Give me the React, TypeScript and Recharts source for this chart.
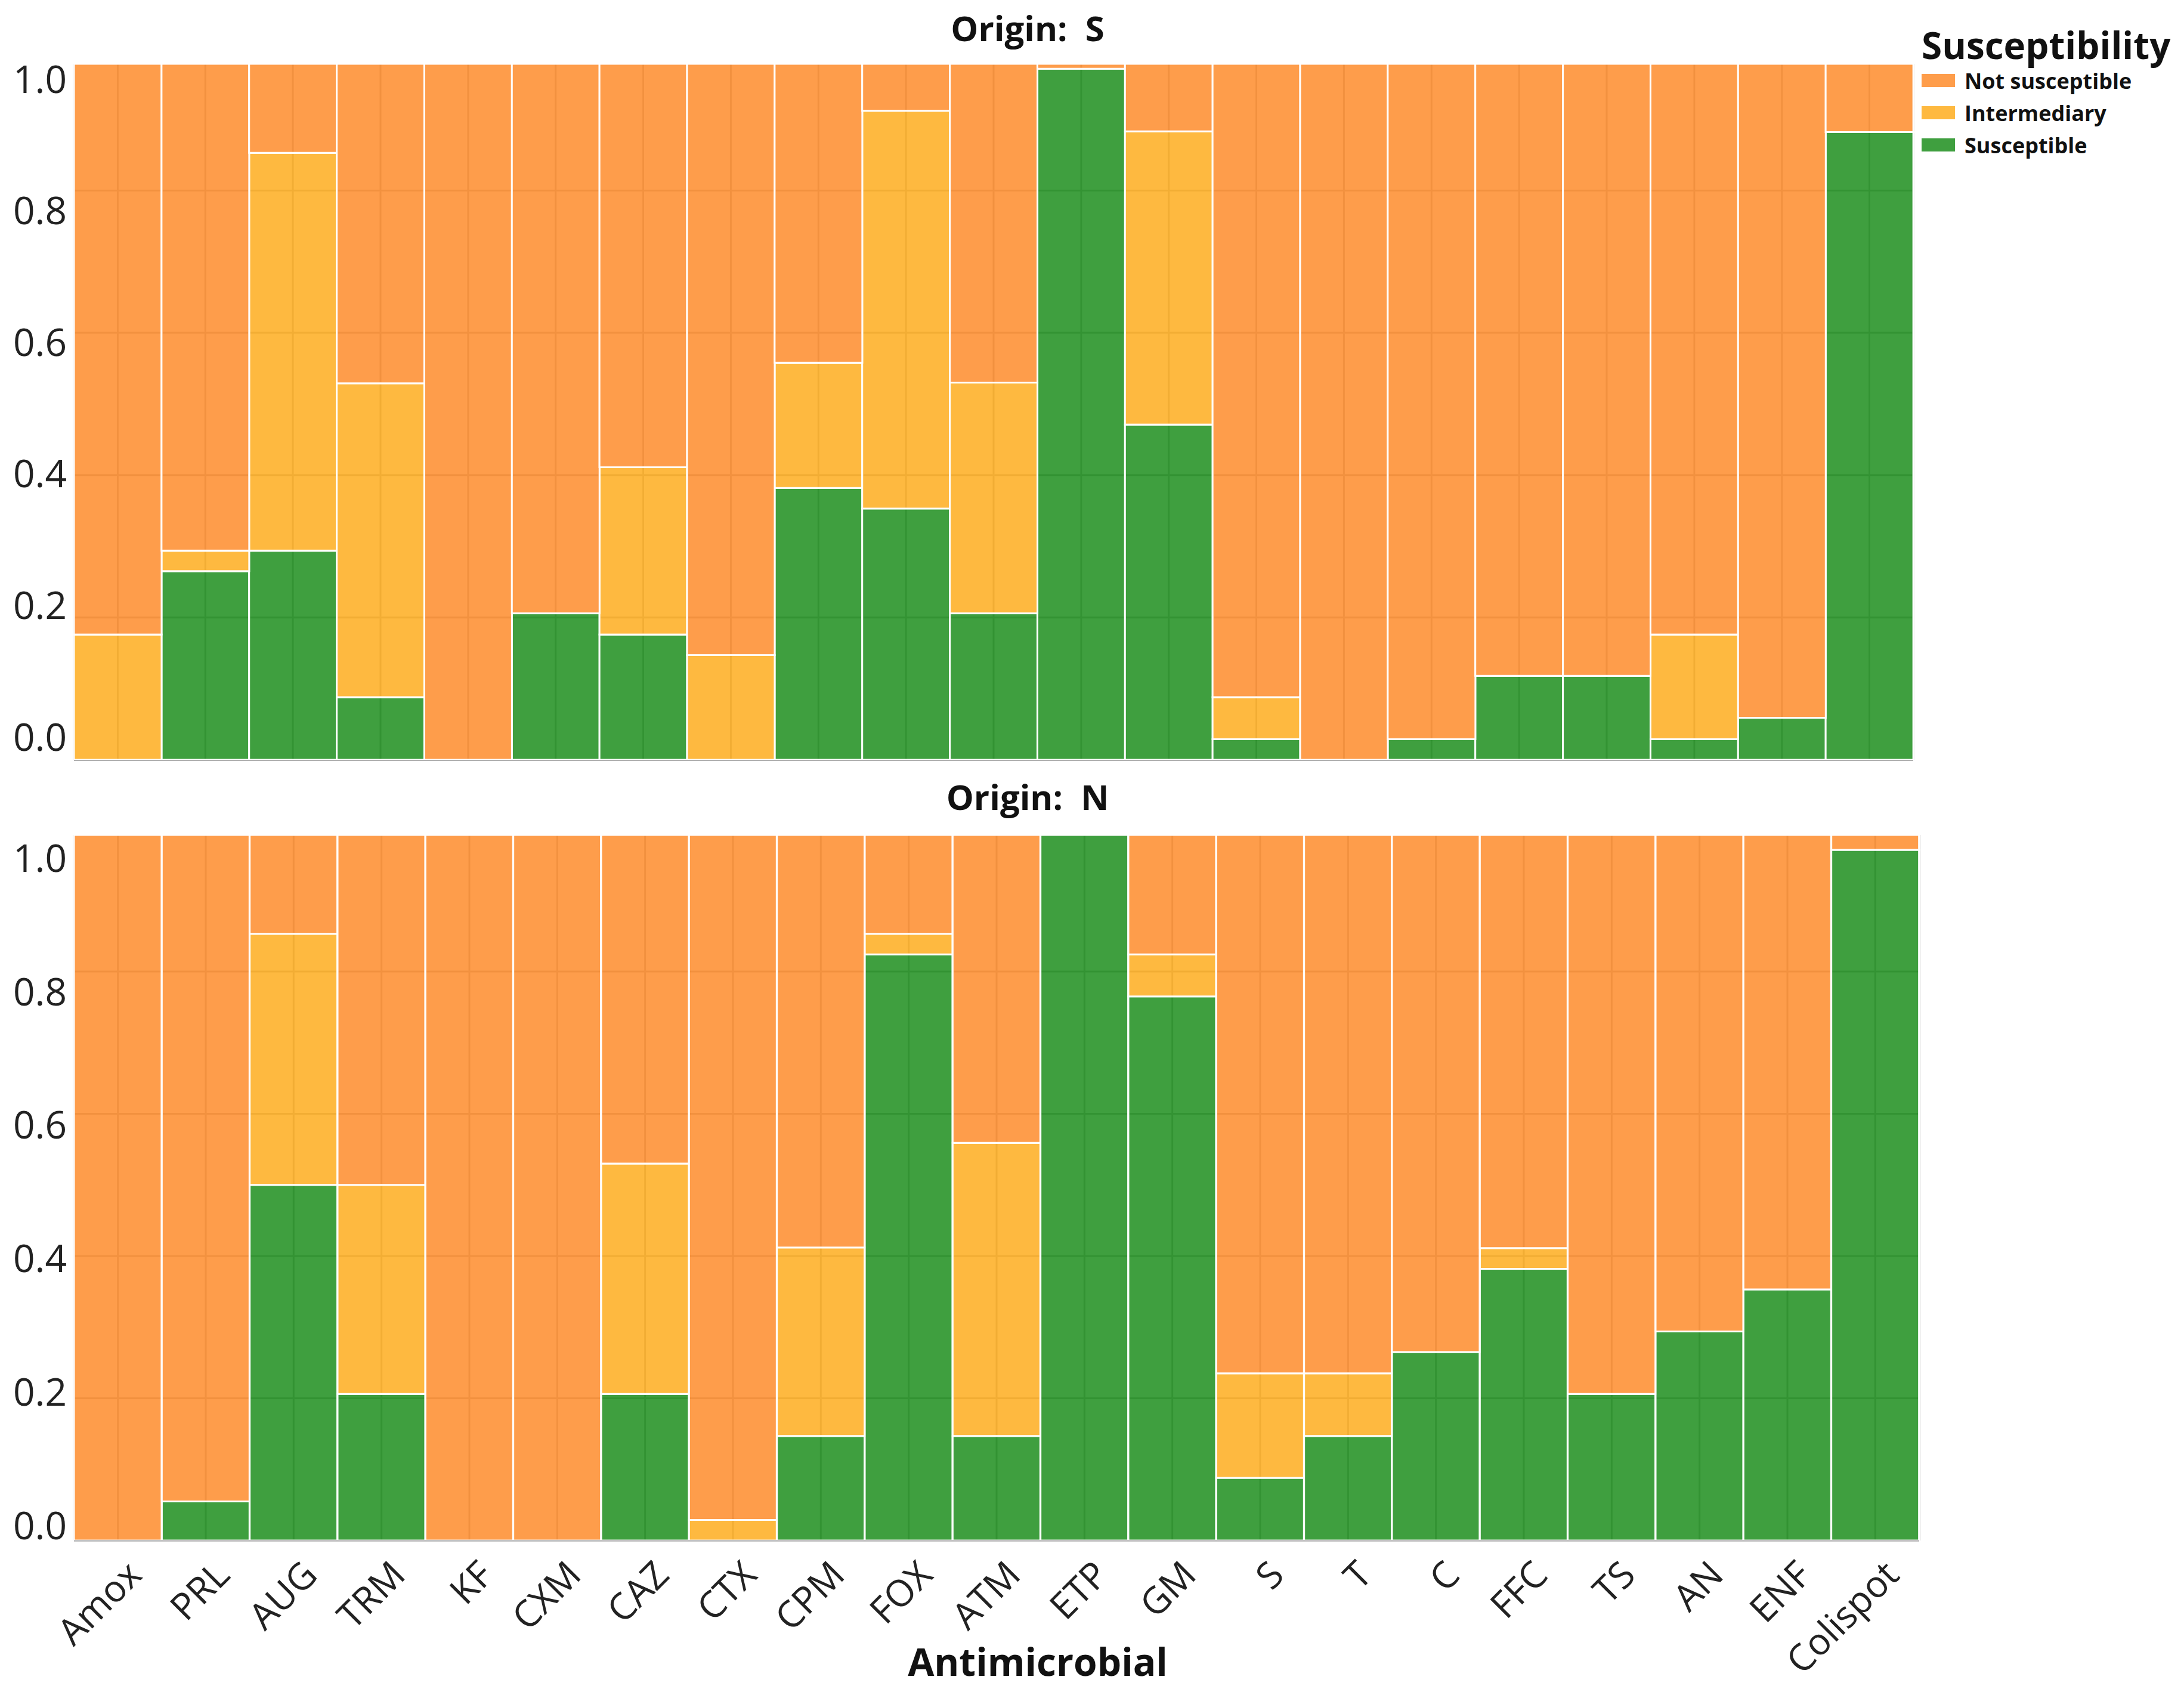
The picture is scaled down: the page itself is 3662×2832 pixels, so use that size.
import { BarChart, Bar, XAxis, YAxis, CartesianGrid } from "recharts";

const drugs = ['Amox', 'PRL', 'AUG', 'TRM', 'KF', 'CXM', 'CAZ', 'CTX', 'CPM', 'FOX', 'ATM', 'ETP', 'GM', 'S', 'T', 'C', 'FFC', 'TS', 'AN', 'ENF', 'Colispot'];

// Origin: S
const sSusceptible = [0, 0.265, 0.294, 0.088, 0, 0.206, 0.176, 0, 0.382, 0.353, 0.206, 0.971, 0.471, 0.029, 0, 0.029, 0.118, 0.118, 0.029, 0.059, 0.882];
const sIntermediary = [0.176, 0.029, 0.559, 0.441, 0, 0, 0.235, 0.147, 0.176, 0.559, 0.324, 0, 0.412, 0.059, 0, 0, 0, 0, 0.147, 0, 0];
const sNotSusceptible = [0.824, 0.706, 0.147, 0.471, 1, 0.794, 0.589, 0.853, 0.442, 0.088, 0.47, 0.029, 0.117, 0.912, 1, 0.971, 0.882, 0.882, 0.824, 0.941, 0.118];

// Origin: N
const nSusceptible = [0, 0.055, 0.5, 0.206, 0, 0, 0.206, 0, 0.147, 0.824, 0.147, 1, 0.765, 0.088, 0.147, 0.265, 0.382, 0.206, 0.294, 0.353, 0.971];
const nIntermediary = [0, 0, 0.353, 0.294, 0, 0, 0.324, 0.029, 0.265, 0.029, 0.412, 0, 0.059, 0.147, 0.088, 0, 0.029, 0, 0, 0, 0];
const nNotSusceptible = [1, 0.945, 0.147, 0.5, 1, 1, 0.47, 0.971, 0.588, 0.147, 0.441, 0, 0.176, 0.765, 0.765, 0.735, 0.589, 0.794, 0.706, 0.647, 0.029];

const yTicks = [0, 0.2, 0.4, 0.6, 0.8, 1.0];

const ORANGE = "#fe9237";
const YELLOW = "#feb12b";
const GREEN = "#2a952a";
const FONT = "'Open Sans', 'DejaVu Sans', sans-serif";

const buildRows = (s: number[], i: number[], ns: number[]) =>
  drugs.map((d, k) => ({ drug: d, S: s[k], I: i[k], NS: ns[k] }));

const originS = buildRows(sSusceptible, sIntermediary, sNotSusceptible);
const originN = buildRows(nSusceptible, nIntermediary, nNotSusceptible);

// tick labels in the figure sit a little squeezed relative to the grid
const makeYTick = (bottom: number, labelBottom: number, squeeze: number) => (props: any) => {
  const { y, payload } = props;
  const ly = labelBottom - (bottom - y) * squeeze;
  return (
    <text x={112} y={ly} textAnchor="end" dominantBaseline="central" fontSize={64} fill="#222" fontFamily={FONT}>
      {Number(payload.value).toFixed(1)}
    </text>
  );
};

const XTick = (props: any) => {
  const { x, y, payload } = props;
  const ax = x + 28;
  const ay = y + 46;
  return (
    <text x={ax} y={ay} dy="0.35em" transform={`rotate(-45 ${ax} ${ay})`} textAnchor="end" fontSize={62} fill="#222" fontFamily={FONT}>
      {payload.value}
    </text>
  );
};

function Panel({ data, height, margin, top, showX, yTick }: any) {
  return (
    <BarChart width={3662} height={height} data={data} margin={margin} barCategoryGap={0} barGap={0}>
      <CartesianGrid stroke="#888" strokeWidth={3} horizontalValues={[0, 0.2, 0.4, 0.6, 0.8]} />
      <XAxis dataKey="drug" hide={!showX} axisLine={false} tickLine={false} tickSize={0} tickMargin={0} height={150} interval={0} tick={<XTick />} />
      <YAxis width={124} domain={[0, top]} allowDataOverflow ticks={yTicks} axisLine={false} tickLine={false} tick={yTick} />
      <Bar dataKey="S" stackId="a" fill={GREEN} fillOpacity={0.9} stroke="#fff" strokeWidth={3} isAnimationActive={false} />
      <Bar dataKey="I" stackId="a" fill={YELLOW} fillOpacity={0.9} stroke="#fff" strokeWidth={3} isAnimationActive={false} />
      <Bar dataKey="NS" stackId="a" fill={ORANGE} fillOpacity={0.9} stroke="#fff" strokeWidth={3} isAnimationActive={false} />
    </BarChart>
  );
}

const legendItems = [
  { label: 'Not susceptible', color: ORANGE },
  { label: 'Intermediary', color: YELLOW },
  { label: 'Susceptible', color: GREEN },
];

export default function App() {
  const titleStyle: any = {
    position: 'absolute', left: 1723, transform: 'translate(-50%, -50%)', whiteSpace: 'pre',
    fontFamily: FONT, fontWeight: 700, fontSize: 58, color: '#111', lineHeight: 1,
  };
  return (
    <div style={{ position: 'absolute', left: 0, top: 0, width: 3662, height: 2832, background: '#fff', overflow: 'hidden' }}>
      <div style={{ position: 'absolute', left: 0, top: 0 }}>
        <Panel data={originS} height={1290} margin={{ top: 107, right: 454, bottom: 16, left: 0 }} top={0.978} showX={false} yTick={makeYTick(1274, 1234, 0.924)} />
      </div>
      <div style={{ position: 'absolute', left: 0, top: 1290 }}>
        <Panel data={originN} height={1542} margin={{ top: 110, right: 444, bottom: 99, left: 0 }} top={0.992} showX={true} yTick={makeYTick(1293, 1266, 0.938)} />
      </div>
      <div style={{ ...titleStyle, top: 47 }}>{'Origin:  S'}</div>
      <div style={{ ...titleStyle, top: 1336 }}>{'Origin:  N'}</div>
      <div style={{ ...titleStyle, left: 1740, top: 2786, fontSize: 64 }}>Antimicrobial</div>
      <div style={{ position: 'absolute', left: 3222, top: 42, fontFamily: FONT, color: '#111' }}>
        <div style={{ fontWeight: 700, fontSize: 62, lineHeight: '66px' }}>Susceptibility</div>
        {legendItems.map((it) => (
          <div key={it.label} style={{ display: 'flex', alignItems: 'center', height: 54 }}>
            <div style={{ width: 56, height: 22, background: it.color, opacity: 0.9, marginRight: 16 }} />
            <div style={{ fontWeight: 700, fontSize: 36 }}>{it.label}</div>
          </div>
        ))}
      </div>
    </div>
  );
}
